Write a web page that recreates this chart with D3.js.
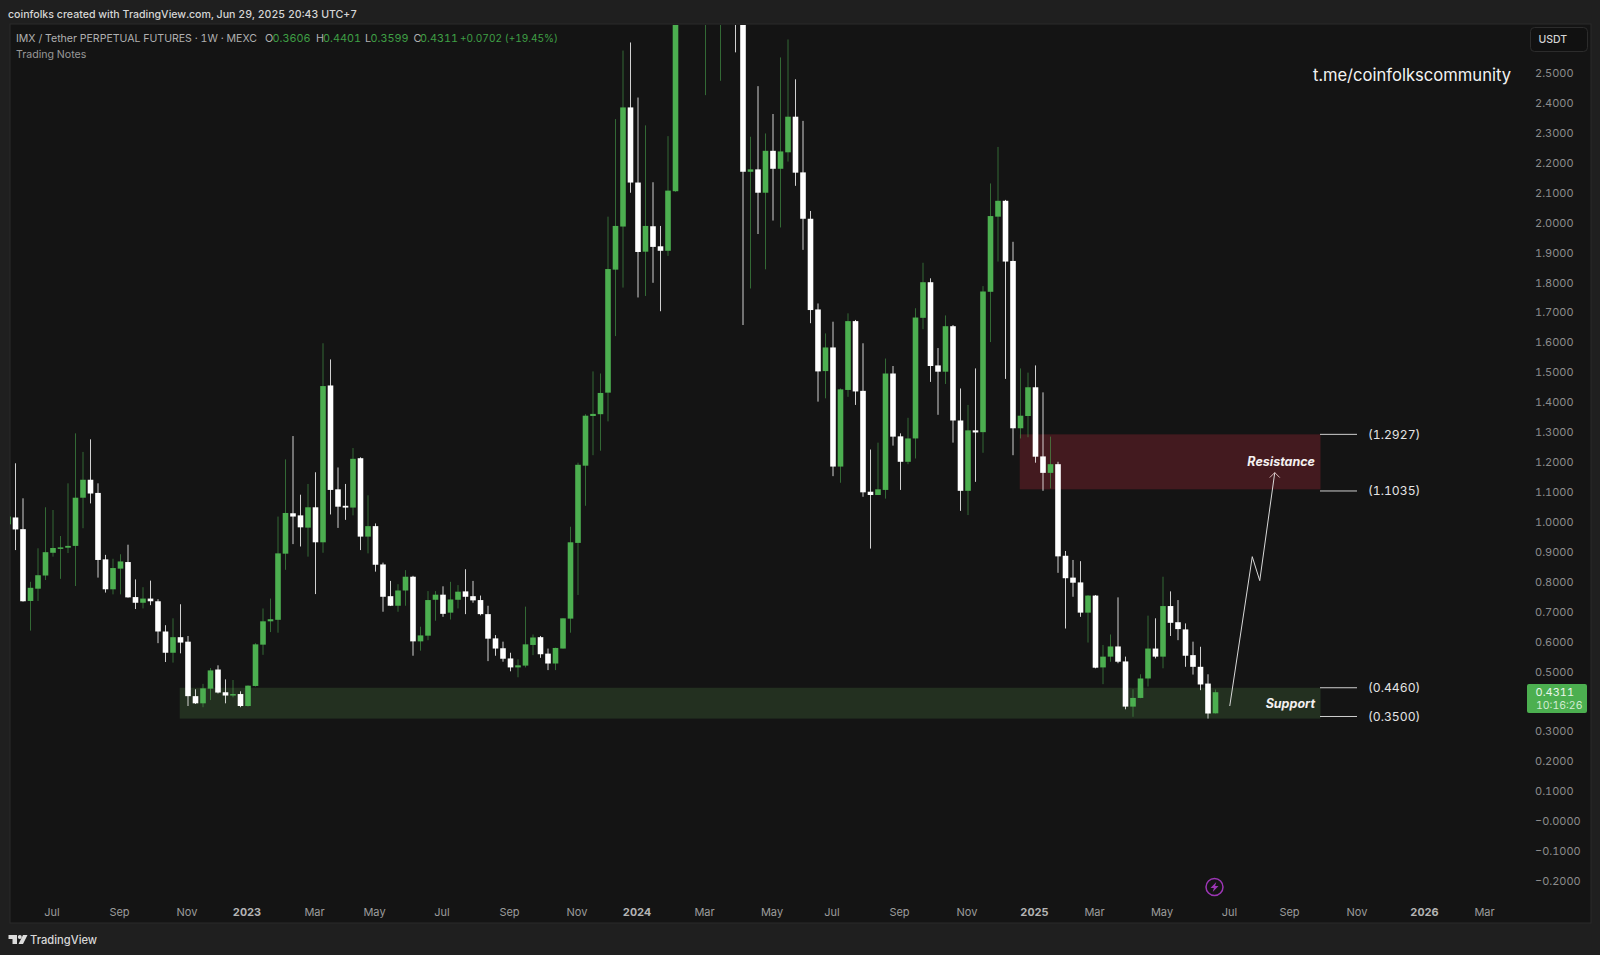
<!DOCTYPE html>
<html>
<head>
<meta charset="utf-8">
<title>IMX / Tether 1W</title>
<script src="https://cdn.jsdelivr.net/npm/d3@7"></script>
<style>
html, body { margin: 0; padding: 0; background: #1f1f1f; overflow: hidden; }
svg { display: block; font-family: Inter, "Noto Sans", sans-serif; font-variant-numeric: tabular-nums; }
</style>
</head>
<body>
<script>
//weekly candles, first bar is the week of May 23 2022, values above 2.66 are off the top of the chart and are estimates
var openVals = [
    0.992,1.015,0.976,0.736,0.777,0.821,0.897,0.911,0.914,0.920,
    1.081,1.141,1.097,0.875,0.775,0.844,0.866,0.749,0.730,0.744,
    0.735,0.634,0.563,0.615,0.600,0.418,0.394,0.443,0.507,0.431,
    0.420,0.425,0.385,0.452,0.590,0.668,0.673,0.894,1.029,1.022,
    0.981,1.049,0.932,1.456,1.109,1.054,1.048,1.213,0.951,0.986,
    0.858,0.752,0.720,0.771,0.817,0.601,0.620,0.740,0.757,0.697,
    0.740,0.768,0.752,0.739,0.692,0.611,0.578,0.544,0.514,0.520,
    0.589,0.615,0.560,0.527,0.577,0.677,0.930,1.188,1.354,1.360,
    1.432,1.843,1.987,2.385,2.134,1.903,1.988,1.921,1.906,2.105,
    2.780,3.050,2.920,3.020,3.320,3.100,3.300,3.050,2.850,2.170,
    2.178,2.100,2.240,2.180,2.235,2.354,2.168,2.013,1.710,1.504,
    1.583,1.185,1.441,1.671,1.438,1.101,1.090,1.107,1.496,1.286,
    1.201,1.279,1.682,1.801,1.523,1.502,1.654,1.339,1.104,1.306,
    1.300,1.769,2.020,2.073,1.872,1.313,1.354,1.450,1.219,1.164,
    1.193,0.887,0.814,0.798,0.697,0.754,0.514,0.550,0.584,0.534,
    0.383,0.412,0.477,0.577,0.550,0.719,0.665,0.641,0.555,0.516,
    0.460,0.3606
];
var highVals = [
    1.040,1.196,1.079,0.800,0.912,1.049,1.040,0.953,1.129,1.296,
    1.234,1.276,1.129,0.890,0.877,0.892,0.924,0.808,0.782,0.804,
    0.742,0.655,0.678,0.725,0.619,0.441,0.459,0.512,0.521,0.474,
    0.472,0.434,0.454,0.595,0.711,0.744,1.018,1.209,1.287,1.091,
    1.127,1.166,1.597,1.543,1.182,1.127,1.247,1.216,1.089,0.995,
    0.864,0.803,0.792,0.839,0.820,0.650,0.769,0.769,0.785,0.800,
    0.789,0.842,0.803,0.754,0.720,0.622,0.600,0.563,0.541,0.717,
    0.624,0.619,0.577,0.580,0.678,0.984,1.198,1.360,1.503,1.496,
    2.020,2.346,2.575,2.602,2.418,2.325,2.135,1.989,2.289,2.950,
    3.120,3.350,3.550,3.600,3.500,3.580,3.400,3.200,3.000,2.287,
    2.456,2.298,2.363,2.552,2.612,2.479,2.340,2.039,1.730,1.630,
    1.669,1.446,1.697,1.675,1.597,1.242,1.265,1.546,1.521,1.296,
    1.348,1.714,1.866,1.814,1.581,1.690,1.658,1.446,1.391,1.513,
    1.788,2.131,2.253,2.076,1.936,1.513,1.499,1.523,1.433,1.285,
    1.201,0.903,0.873,0.869,0.756,0.756,0.589,0.624,0.748,0.550,
    0.441,0.491,0.687,0.678,0.817,0.768,0.739,0.661,0.600,0.583,
    0.491,0.4401
];
var lowVals = [
    0.980,0.906,0.734,0.637,0.736,0.806,0.884,0.810,0.896,0.786,
    0.979,1.062,0.814,0.764,0.758,0.758,0.747,0.709,0.711,0.722,
    0.595,0.532,0.530,0.561,0.385,0.392,0.381,0.405,0.427,0.394,
    0.414,0.381,0.383,0.450,0.556,0.632,0.630,0.840,0.926,0.918,
    0.884,0.759,0.897,1.025,0.980,1.007,1.022,0.906,0.895,0.834,
    0.700,0.719,0.700,0.720,0.553,0.570,0.605,0.670,0.683,0.674,
    0.711,0.692,0.730,0.688,0.535,0.553,0.533,0.501,0.481,0.514,
    0.555,0.546,0.505,0.505,0.577,0.630,0.756,1.054,1.223,1.238,
    1.336,1.621,1.783,2.100,1.750,1.755,1.799,1.704,1.889,2.103,
    2.720,2.800,2.880,2.426,3.000,2.474,2.950,2.569,1.658,1.780,
    1.962,1.844,2.007,1.984,2.204,2.123,1.909,1.664,1.402,1.413,
    1.153,1.131,1.418,1.391,1.084,0.911,1.090,1.078,1.255,1.107,
    1.193,1.212,1.644,1.468,1.358,1.461,1.265,1.037,1.023,1.134,
    1.231,1.601,1.870,1.478,1.223,1.279,1.283,1.198,1.104,1.112,
    0.830,0.644,0.750,0.683,0.597,0.511,0.458,0.533,0.528,0.374,
    0.349,0.411,0.450,0.544,0.511,0.619,0.605,0.516,0.490,0.438,
    0.343,0.3599
];
var closeVals = [
    1.018,0.975,0.735,0.780,0.822,0.899,0.913,0.915,0.920,1.081,
    1.141,1.095,0.873,0.775,0.846,0.868,0.748,0.730,0.744,0.735,
    0.634,0.563,0.615,0.597,0.418,0.394,0.444,0.504,0.430,0.420,
    0.425,0.385,0.453,0.591,0.668,0.675,0.895,1.030,1.018,0.982,
    1.049,0.932,1.454,1.107,1.051,1.048,1.211,0.951,0.986,0.857,
    0.750,0.720,0.771,0.817,0.601,0.621,0.739,0.757,0.693,0.741,
    0.767,0.750,0.738,0.692,0.610,0.577,0.543,0.514,0.521,0.591,
    0.614,0.558,0.527,0.579,0.678,0.932,1.191,1.355,1.361,1.431,
    1.845,1.989,2.385,2.134,1.902,1.989,1.919,1.906,2.107,2.780,
    3.050,2.920,3.400,3.320,3.100,3.300,3.050,2.850,2.170,2.178,
    2.100,2.240,2.180,2.238,2.354,2.167,2.013,1.708,1.503,1.583,
    1.185,1.443,1.671,1.436,1.099,1.090,1.109,1.496,1.285,1.201,
    1.279,1.683,1.801,1.521,1.502,1.654,1.339,1.104,1.306,1.299,
    1.770,2.022,2.073,1.870,1.313,1.355,1.450,1.218,1.164,1.193,
    0.885,0.812,0.797,0.697,0.754,0.513,0.550,0.584,0.533,0.383,
    0.412,0.477,0.577,0.550,0.719,0.663,0.642,0.553,0.516,0.457,
    0.360,0.4311
];

//axis ticks
var priceTicks = [2.5,2.4,2.3,2.2,2.1,2.0,1.9,1.8,1.7,1.6,1.5,1.4,1.3,1.2,1.1,1.0,0.9,0.8,0.7,0.6,0.5,0.3,0.2,0.1,0,-0.1,-0.2];
var dateTicks = ["2022-07-04","2022-09-05","2022-11-07","2023-01-02","2023-03-06","2023-05-01","2023-07-03","2023-09-04","2023-11-06",
    "2024-01-01","2024-03-04","2024-05-06","2024-07-01","2024-09-02","2024-11-04","2025-01-06","2025-03-03","2025-05-05","2025-07-07",
    "2025-09-01","2025-11-03","2026-01-05","2026-03-02"];
var dateLabels = ["Jul","Sep","Nov","2023","Mar","May","Jul","Sep","Nov","2024","Mar","May","Jul","Sep","Nov","2025","Mar","May","Jul","Sep","Nov","2026","Mar"];

//drawing notes: zones and the projected path, in bars and prices
var resistanceZone = {startBar: 134.9, endBar: 175, top: 1.2927, bottom: 1.109};
var supportZone = {startBar: 22.9, endBar: 175, top: 0.446, bottom: 0.343};
var levelPrices = [1.2927, 1.1035, 0.446, 0.35];
var levelLabels = ["(1.2927)", "(1.1035)", "(0.4460)", "(0.3500)"];
var pathBars = [162.9, 165.9, 166.9, 168.9];
var pathPrices = [0.385, 0.884, 0.804, 1.165];

var firstWeek = Date.UTC(2022, 4, 23);
var weekMs = 7 * 24 * 3600 * 1000;

setChart();

function barDate(i){
    return new Date(firstWeek + i * weekMs);
};

function setChart(){
    var width = 1600,
        height = 955;

    var svg = d3.select("body")
        .append("svg")
        .attr("width", width)
        .attr("height", height);

    //main panel
    svg.append("rect")
        .attr("x", 10)
        .attr("y", 24)
        .attr("width", 1581)
        .attr("height", 899)
        .attr("fill", "#141414")
        .attr("stroke", "#2a2a2a");

    svg.append("clipPath")
        .attr("id", "plot")
        .append("rect")
        .attr("x", 10)
        .attr("y", 25)
        .attr("width", 1510)
        .attr("height", 897);

    //scales: price axis is linear, time axis has one bar each week
    var x = d3.scaleUtc()
        .domain([barDate(0), barDate(200)])
        .range([8, 1508]);

    var y = d3.scaleLinear()
        .domain([0, 2.5])
        .range([821.25, 73]);

    var barX = function(i){ return x(barDate(i)); };

    var plot = svg.append("g").attr("clip-path", "url(#plot)");

    setZones(plot, barX, y);
    setCandles(plot, barX, y);
    setNotes(svg, barX, y);
    setAxes(svg, x, y);
    setHeader(svg);
};

function setZones(plot, barX, y){
    plot.selectAll(".zone")
        .data([resistanceZone, supportZone])
        .enter()
        .append("rect")
        .attr("class", "zone")
        .attr("x", function(d){ return barX(d.startBar); })
        .attr("y", function(d){ return y(d.top); })
        .attr("width", function(d){ return barX(d.endBar) - barX(d.startBar); })
        .attr("height", function(d){ return y(d.bottom) - y(d.top); })
        .attr("fill", function(d, i){ return i == 0 ? "#431a1f" : "#233020"; });
};

function setCandles(plot, barX, y){
    var idx = d3.range(openVals.length);
    var color = function(i){ return closeVals[i] > openVals[i] ? "#4caf50" : "#ffffff"; };

    //wicks first so that the bodies sit on top
    plot.selectAll(".wick")
        .data(idx)
        .enter()
        .append("line")
        .attr("class", "wick")
        .attr("x1", barX)
        .attr("x2", barX)
        .attr("y1", function(i){ return y(highVals[i]); })
        .attr("y2", function(i){ return y(lowVals[i]); })
        .attr("stroke", color)
        .attr("stroke-opacity", function(i){ return closeVals[i] > openVals[i] ? 0.55 : 0.8; })
        .attr("stroke-width", 1);

    plot.selectAll(".body")
        .data(idx)
        .enter()
        .append("rect")
        .attr("class", "body")
        .attr("x", function(i){ return barX(i) - 2.8; })
        .attr("width", 5.6)
        .attr("y", function(i){ return y(Math.max(openVals[i], closeVals[i])); })
        .attr("height", function(i){ return Math.max(1.5, Math.abs(y(openVals[i]) - y(closeVals[i]))); })
        .attr("fill", color);
};

function setNotes(svg, barX, y){
    //level ticks and prices to the right of the zones
    svg.selectAll(".levelLine")
        .data(levelPrices)
        .enter()
        .append("line")
        .attr("class", "levelLine")
        .attr("x1", 1320)
        .attr("x2", 1357)
        .attr("y1", function(d){ return y(d); })
        .attr("y2", function(d){ return y(d); })
        .attr("stroke", "#cfcfcf")
        .attr("stroke-width", 1);

    svg.selectAll(".levelLabel")
        .data(levelLabels)
        .enter()
        .append("text")
        .attr("class", "levelLabel")
        .attr("x", 1368)
        .attr("y", function(d, i){ return y(levelPrices[i]); })
        .attr("dy", "0.36em")
        .attr("font-size", 12.2)
        .attr("fill", "#e4e4e4")
        .text(function(d){ return d; });

    //zone names
    var names = [["Resistance", 461.7], ["Support", 703]];
    svg.selectAll(".zoneName")
        .data(names)
        .enter()
        .append("text")
        .attr("class", "zoneName")
        .attr("x", 1315)
        .attr("y", function(d){ return d[1]; })
        .attr("dy", "0.36em")
        .attr("text-anchor", "end")
        .attr("font-size", 12.5)
        .attr("font-weight", 700)
        .attr("font-style", "italic")
        .attr("fill", "#f4f0f0")
        .text(function(d){ return d[0]; });

    //projected path with open arrow head
    var line = d3.line()
        .x(function(d){ return barX(d); })
        .y(function(d, i){ return y(pathPrices[i]); });

    svg.append("path")
        .attr("d", line(pathBars))
        .attr("fill", "none")
        .attr("stroke", "#d8d8d8")
        .attr("stroke-width", 1);

    var tipX = barX(pathBars[3]),
        tipY = y(pathPrices[3]);

    svg.append("path")
        .attr("d", "M" + (tipX - 5) + "," + (tipY + 5) + "L" + tipX + "," + tipY + "L" + (tipX + 5) + "," + (tipY + 5))
        .attr("fill", "none")
        .attr("stroke", "#d8b8b8")
        .attr("stroke-width", 1);

    //watermark
    svg.append("text")
        .attr("x", 1313)
        .attr("y", 81)
        .attr("font-size", 16.6)
        .attr("fill", "#f2f2f2")
        .text("t.me/coinfolkscommunity");

    //lightning badge near the last bars
    var badge = svg.append("g").attr("transform", "translate(1214.5,887)");
    badge.append("circle")
        .attr("r", 8.5)
        .attr("fill", "none")
        .attr("stroke", "#9c36b5")
        .attr("stroke-width", 1.5);
    badge.append("path")
        .attr("d", "M1.8,-5L-4,1L-0.6,1L-1.8,5L4,-1L0.6,-1Z")
        .attr("fill", "#9c36b5");
};

function setAxes(svg, x, y){
    //price axis
    var yAxis = d3.axisRight(y)
        .tickValues(priceTicks)
        .tickSize(0)
        .tickPadding(0)
        .tickFormat(function(d){
            if (d == 0){ return "\u22120.0000"; };
            return d < 0 ? "\u2212" + d3.format(".4f")(-d) : d3.format(".4f")(d);
        });

    var yGroup = svg.append("g")
        .attr("transform", "translate(1535,0)")
        .call(yAxis);
    yGroup.select(".domain").remove();
    yGroup.selectAll("text")
        .attr("font-family", "Inter, sans-serif")
        .attr("font-size", 11)
        .attr("fill", "#8c8c8c");

    //time axis
    var xAxis = d3.axisBottom(x)
        .tickValues(dateTicks.map(function(d){ return new Date(d); }))
        .tickSize(0)
        .tickPadding(0)
        .tickFormat(function(d, i){ return dateLabels[i]; });

    var xGroup = svg.append("g")
        .attr("transform", "translate(-1.5,908)")
        .call(xAxis);
    xGroup.select(".domain").remove();
    xGroup.selectAll("text")
        .attr("font-family", "Inter, sans-serif")
        .attr("font-size", 11)
        .attr("fill", function(d, i){ return dateLabels[i].length == 4 ? "#b4b4b4" : "#9c9c9c"; })
        .attr("font-weight", function(d, i){ return dateLabels[i].length == 4 ? 700 : 400; });

    //last price tag
    svg.append("rect")
        .attr("x", 1527)
        .attr("y", 684)
        .attr("width", 60)
        .attr("height", 29)
        .attr("rx", 2)
        .attr("fill", "#4caf50");
    svg.append("text")
        .attr("x", 1535.5)
        .attr("y", 696)
        .attr("font-size", 11)
        .attr("fill", "#eaf6ea")
        .text(d3.format(".4f")(closeVals[closeVals.length - 1]));
    svg.append("text")
        .attr("x", 1536)
        .attr("y", 708.5)
        .attr("font-size", 10.5)
        .attr("fill", "#d2ecd3")
        .text("10:16:26");

    //currency button
    svg.append("rect")
        .attr("x", 1530.5)
        .attr("y", 27.5)
        .attr("width", 57)
        .attr("height", 24)
        .attr("rx", 4)
        .attr("fill", "#111111")
        .attr("stroke", "#2c2c2c");
    svg.append("text")
        .attr("x", 1538.5)
        .attr("y", 43)
        .attr("font-size", 10.5)
        .attr("font-weight", 500)
        .attr("fill", "#d4d4d4")
        .text("USDT");
};

function setHeader(svg){
    svg.append("text")
        .attr("x", 8)
        .attr("y", 18)
        .attr("font-size", 10.6)
        .attr("font-weight", 500)
        .attr("fill", "#d6d6d6")
        .text("coinfolks created with TradingView.com, Jun 29, 2025 20:43 UTC+7");

    //legend line, each piece is placed on its own so the spacing holds
    var pieces = [
        ["IMX / Tether PERPETUAL FUTURES \u00b7 1W \u00b7 MEXC", 16, "#b0b0b0", 10.55],
        ["O", 265, "#b0b0b0", 10.8], ["0.3606", 272.5, "#3f9f45", 10.8],
        ["H", 316, "#b0b0b0", 10.8], ["0.4401", 323, "#3f9f45", 10.8],
        ["L", 365, "#b0b0b0", 10.8], ["0.3599", 370.5, "#3f9f45", 10.8],
        ["C", 413.5, "#b0b0b0", 10.8], ["0.4311", 420, "#3f9f45", 10.8],
        ["+0.0702 (+19.45%)", 460, "#3f9f45", 10.1]
    ];
    svg.selectAll(".legendText")
        .data(pieces)
        .enter()
        .append("text")
        .attr("class", "legendText")
        .attr("x", function(d){ return d[1]; })
        .attr("y", 42)
        .attr("font-size", function(d){ return d[3]; })
        .attr("fill", function(d){ return d[2]; })
        .text(function(d){ return d[0]; });

    svg.append("text")
        .attr("x", 16)
        .attr("y", 58)
        .attr("font-size", 10.6)
        .attr("fill", "#989898")
        .text("Trading Notes");

    //footer logo
    svg.append("path")
        .attr("d", "M8.5,935H17V944H12.5V939H8.5ZM23,935H27.5L23,944H18.5Z")
        .attr("fill", "#dcdcdc");
    svg.append("circle")
        .attr("cx", 19.8)
        .attr("cy", 937)
        .attr("r", 2)
        .attr("fill", "#dcdcdc");
    svg.append("text")
        .attr("x", 30)
        .attr("y", 944)
        .attr("font-size", 11.2)
        .attr("font-weight", 500)
        .attr("fill", "#d8d8d8")
        .text("TradingView");
};
</script>
</body>
</html>
